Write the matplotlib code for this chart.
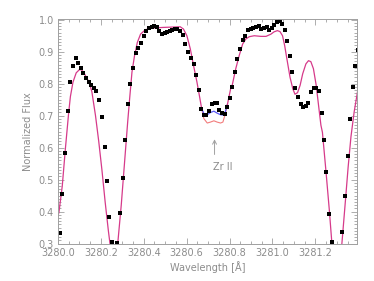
import matplotlib
matplotlib.use("Agg")
import matplotlib.pyplot as plt
import numpy as np
from matplotlib.ticker import MultipleLocator

# observed spectrum (black squares)
obs_wave = [3280.008, 3280.020, 3280.034, 3280.045, 3280.056, 3280.070, 3280.083, 3280.094,
            3280.106, 3280.118, 3280.131, 3280.144, 3280.154, 3280.167, 3280.179, 3280.193,
            3280.204, 3280.217, 3280.229, 3280.240, 3280.253, 3280.276, 3280.289, 3280.301,
            3280.313, 3280.326, 3280.338, 3280.351, 3280.363, 3280.374, 3280.387, 3280.399,
            3280.412, 3280.424, 3280.437, 3280.448, 3280.460, 3280.473, 3280.485, 3280.497,
            3280.508, 3280.521, 3280.533, 3280.544, 3280.557, 3280.569, 3280.582, 3280.594,
            3280.607, 3280.619, 3280.632, 3280.644, 3280.656, 3280.669, 3280.681, 3280.692,
            3280.705, 3280.717, 3280.730, 3280.741, 3280.753, 3280.766, 3280.778, 3280.789,
            3280.800, 3280.813, 3280.825, 3280.837, 3280.850, 3280.862, 3280.873, 3280.886,
            3280.898, 3280.911, 3280.923, 3280.936, 3280.948, 3280.960, 3280.973, 3280.986,
            3280.998, 3281.009, 3281.022, 3281.034, 3281.045, 3281.057, 3281.070, 3281.082,
            3281.093, 3281.105, 3281.118, 3281.131, 3281.143, 3281.156, 3281.166, 3281.179,
            3281.192, 3281.204, 3281.218, 3281.229, 3281.241, 3281.252, 3281.265, 3281.276,
            3281.325, 3281.338, 3281.352, 3281.363, 3281.375, 3281.386, 3281.398]
obs_flux = [0.333, 0.456, 0.584, 0.714, 0.805, 0.854, 0.880, 0.865,
            0.850, 0.834, 0.819, 0.806, 0.796, 0.786, 0.777, 0.748,
            0.697, 0.601, 0.496, 0.382, 0.305, 0.301, 0.395, 0.504,
            0.623, 0.736, 0.800, 0.850, 0.895, 0.913, 0.927, 0.950,
            0.964, 0.975, 0.978, 0.979, 0.977, 0.965, 0.956, 0.959,
            0.963, 0.965, 0.967, 0.970, 0.971, 0.965, 0.952, 0.923,
            0.900, 0.880, 0.862, 0.828, 0.781, 0.720, 0.702, 0.701,
            0.716, 0.738, 0.739, 0.740, 0.718, 0.707, 0.704, 0.726,
            0.754, 0.789, 0.836, 0.877, 0.910, 0.938, 0.950, 0.967,
            0.971, 0.973, 0.976, 0.980, 0.971, 0.974, 0.978, 0.969,
            0.975, 0.984, 0.993, 0.995, 0.987, 0.968, 0.934, 0.887,
            0.838, 0.788, 0.759, 0.736, 0.726, 0.729, 0.741, 0.774,
            0.785, 0.788, 0.778, 0.707, 0.623, 0.523, 0.394, 0.306,
            0.336, 0.448, 0.575, 0.689, 0.790, 0.855, 0.906]

# synthetic spectra: blue = weaker Zr II, red = stronger Zr II
mod_wave = [3280.000, 3280.005, 3280.020, 3280.035, 3280.050, 3280.058, 3280.070, 3280.085,
            3280.100, 3280.110, 3280.120, 3280.132, 3280.145, 3280.158, 3280.175, 3280.190,
            3280.205, 3280.220, 3280.235, 3280.250, 3280.260, 3280.270, 3280.280, 3280.295,
            3280.310, 3280.325, 3280.335, 3280.345, 3280.357, 3280.370, 3280.385, 3280.408,
            3280.440, 3280.490, 3280.570, 3280.585, 3280.601, 3280.617, 3280.632, 3280.648,
            3280.659, 3280.670, 3280.680, 3280.696, 3280.711, 3280.727, 3280.742, 3280.758,
            3280.769, 3280.780, 3280.790, 3280.805, 3280.813, 3280.829, 3280.845, 3280.861,
            3280.876, 3280.892, 3280.915, 3280.946, 3280.970, 3280.993, 3281.007, 3281.023,
            3281.035, 3281.047, 3281.057, 3281.070, 3281.082, 3281.095, 3281.105, 3281.117,
            3281.129, 3281.141, 3281.156, 3281.168, 3281.179, 3281.191, 3281.204, 3281.215,
            3281.226, 3281.233, 3281.249, 3281.265, 3281.277, 3281.290, 3281.302, 3281.314,
            3281.324, 3281.338, 3281.353, 3281.366, 3281.381, 3281.394, 3281.400]
mod_blue = [0.385, 0.400, 0.480, 0.600, 0.710, 0.760, 0.805, 0.834,
            0.844, 0.843, 0.836, 0.820, 0.805, 0.775, 0.700, 0.620,
            0.530, 0.430, 0.340, 0.260, 0.220, 0.240, 0.310, 0.420,
            0.550, 0.680, 0.760, 0.836, 0.888, 0.929, 0.955, 0.969,
            0.974, 0.976, 0.978, 0.971, 0.950, 0.909, 0.857, 0.805,
            0.764, 0.722, 0.707, 0.703, 0.710, 0.714, 0.708, 0.703,
            0.702, 0.712, 0.735, 0.784, 0.797, 0.847, 0.888, 0.924,
            0.940, 0.947, 0.950, 0.948, 0.948, 0.955, 0.962, 0.966,
            0.963, 0.950, 0.919, 0.867, 0.820, 0.784, 0.767, 0.772,
            0.795, 0.831, 0.862, 0.872, 0.869, 0.847, 0.795, 0.732,
            0.670, 0.648, 0.530, 0.406, 0.302, 0.230, 0.210, 0.240,
            0.302, 0.416, 0.540, 0.634, 0.712, 0.764, 0.790]
mod_red = [0.385, 0.400, 0.480, 0.600, 0.710, 0.760, 0.805, 0.834,
           0.844, 0.843, 0.836, 0.820, 0.805, 0.775, 0.700, 0.620,
           0.530, 0.430, 0.340, 0.260, 0.220, 0.240, 0.310, 0.420,
           0.550, 0.680, 0.760, 0.836, 0.888, 0.929, 0.955, 0.969,
           0.974, 0.976, 0.978, 0.971, 0.950, 0.909, 0.857, 0.805,
           0.764, 0.722, 0.691, 0.677, 0.680, 0.684, 0.680, 0.677,
           0.680, 0.705, 0.735, 0.784, 0.797, 0.847, 0.888, 0.924,
           0.940, 0.947, 0.950, 0.948, 0.948, 0.955, 0.962, 0.966,
           0.963, 0.950, 0.919, 0.867, 0.820, 0.784, 0.767, 0.772,
           0.795, 0.831, 0.862, 0.872, 0.869, 0.847, 0.795, 0.732,
           0.670, 0.648, 0.530, 0.406, 0.302, 0.230, 0.210, 0.240,
           0.302, 0.416, 0.540, 0.634, 0.712, 0.764, 0.790]

gray = "#8c8c8c"
plt.rcParams["font.family"] = "DejaVu Sans"
plt.rcParams["font.size"] = 7

fig = plt.figure(figsize=(3.74, 2.81), dpi=100)
ax = fig.add_axes([0.155, 0.132, 0.800, 0.800])

mw = np.array(mod_wave)
mb = np.array(mod_blue)
mr = np.array(mod_red)
same = np.isclose(mb, mr)
common = same & np.roll(same, 1) & np.roll(same, -1)
ax.plot(mw, np.ma.masked_where(common, mr), color="#f27c7c", lw=0.8)
ax.plot(mw, np.ma.masked_where(common, mb), color="#5a5af5", lw=0.9)
ax.plot(mw, np.ma.masked_where(~same, mb), color="#d63a8a", lw=0.9)

ax.plot(obs_wave, obs_flux, "s", color="black", ms=2.2, mew=0)

# line marker
ax.annotate("", xy=(3280.73, 0.635), xytext=(3280.73, 0.57),
            arrowprops=dict(arrowstyle="->", color="#a0a0a0", lw=0.7))
ax.text(3280.77, 0.54, "Zr II", color=gray, fontsize=7, ha="center", va="center")

ax.set_xlim(3280.0, 3281.395)
ax.set_ylim(0.299, 1.002)
ax.xaxis.set_major_locator(MultipleLocator(0.2))
ax.xaxis.set_minor_locator(MultipleLocator(0.05))
ax.yaxis.set_major_locator(MultipleLocator(0.1))
ax.yaxis.set_minor_locator(MultipleLocator(0.01))
ax.xaxis.set_major_formatter(matplotlib.ticker.FormatStrFormatter("%.1f"))
ax.yaxis.set_major_formatter(matplotlib.ticker.FormatStrFormatter("%.1f"))
ax.tick_params(which="both", direction="in", top=True, right=True,
               color="#a0a0a0", labelcolor=gray, width=0.6)
ax.tick_params(which="major", length=4, pad=3)
ax.tick_params(which="minor", length=2)
for s in ax.spines.values():
    s.set_color("#a0a0a0")
    s.set_linewidth(0.7)

ax.set_xlabel("Wavelength [Å]", color=gray, labelpad=2)
ax.set_ylabel("Normalized Flux", color=gray, labelpad=4)

fig.savefig("out.png", dpi=100)
